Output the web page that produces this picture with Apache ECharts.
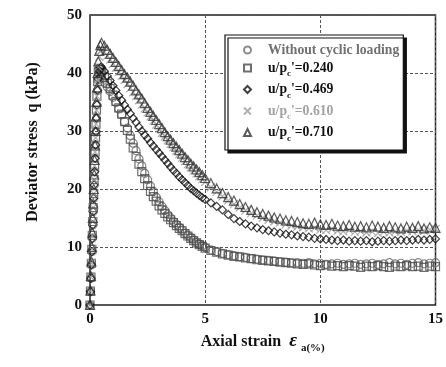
<!DOCTYPE html>
<html>
<head>
<meta charset="utf-8">
<script src="https://cdn.jsdelivr.net/npm/echarts@6/dist/echarts.min.js"></script>
<style>
  html, body { margin: 0; padding: 0; background: #fff; }
  #chart { width: 446px; height: 367px; }
</style>
</head>
<body>
<div id="chart"></div>
<script>
// axial strain (%) sampled along every curve
const strain = [
  0, 0.02, 0.04, 0.06, 0.08, 0.10, 0.12, 0.14, 0.16, 0.18, 0.20, 0.22, 0.24, 0.26, 0.28, 0.30, 0.33, 0.36, 0.40, 0.45, 0.5,
  0.625, 0.75, 0.875, 1, 1.125, 1.25, 1.375, 1.5, 1.625, 1.75, 1.875, 2,
  2.125, 2.25, 2.375, 2.5, 2.625, 2.75, 2.875, 3, 3.125, 3.25, 3.375, 3.5,
  3.625, 3.75, 3.875, 4, 4.125, 4.25, 4.375, 4.5, 4.625, 4.75, 4.875, 5,
  5.25, 5.5, 5.75, 6, 6.25, 6.5, 6.75, 7, 7.25, 7.5, 7.75, 8,
  8.25, 8.5, 8.75, 9, 9.25, 9.5, 9.75, 10, 10.25, 10.5,
  10.75, 11, 11.25, 11.5, 11.75, 12, 12.25, 12.5, 12.75, 13,
  13.25, 13.5, 13.75, 14, 14.25, 14.5, 14.75, 15
];

// deviator stress q (kPa)
const qNoCyclic = [
  0, 2.3, 4.6, 6.9, 9.2, 11.5, 13.8, 16.1, 18.4, 20.7, 23, 25.3, 27.6, 29.9, 32.2, 34.5, 37, 38.8, 39.6, 39.4, 39.0,
  38.4, 37.6, 36.8, 35.8, 34.9, 33.8, 32.8, 31.6, 30.5, 29.2, 27.9, 26.6,
  25.2, 24.0, 22.7, 21.6, 20.5, 19.6, 18.6, 17.8, 17.0, 16.3, 15.6, 15.0,
  14.4, 13.9, 13.4, 12.9, 12.4, 12.0, 11.6, 11.2, 10.8, 10.5, 10.2, 9.9,
  9.5, 9.2, 8.9, 8.7, 8.5, 8.3, 8.2, 8.0, 7.9, 7.8, 7.7, 7.6,
  7.5, 7.4, 7.3, 7.3, 7.2, 7.3, 7.1, 7.2, 7.0, 7.1,
  7.2, 7.0, 7.1, 7.2, 7.0, 7.1, 7.2, 7.0, 7.1, 7.3,
  7.1, 7.2, 7.0, 7.2, 7.3, 7.1, 7.2, 7.3
];
const q240 = [
  0, 2.4, 4.8, 7.2, 9.6, 12, 14.4, 16.8, 19.2, 21.6, 24, 26.4, 28.8, 31.2, 33.6, 36, 38.5, 40.2, 40.8, 40.6, 40.0,
  39.2, 38.2, 37.3, 36.2, 35.1, 34.0, 32.9, 31.6, 30.1, 28.6, 27.1, 25.6,
  24.3, 23.0, 21.8, 20.6, 19.6, 18.7, 17.9, 17.1, 16.4, 15.8, 15.2, 14.7,
  14.2, 13.7, 13.2, 12.8, 12.3, 11.9, 11.5, 11.1, 10.7, 10.4, 10.1, 9.8,
  9.4, 9.1, 8.8, 8.6, 8.4, 8.3, 8.1, 8.0, 7.8, 7.7, 7.6, 7.5,
  7.4, 7.3, 7.2, 7.1, 7.0, 7.1, 6.9, 6.8, 6.9, 6.7,
  6.8, 6.6, 6.8, 6.7, 6.5, 6.7, 6.6, 6.8, 6.6, 6.5,
  6.7, 6.6, 6.8, 6.6, 6.7, 6.5, 6.7, 6.6
];
const q469 = [
  0, 2.3, 4.6, 6.9, 9.2, 11.5, 13.8, 16.1, 18.4, 20.7, 23, 25.3, 27.6, 29.9, 32.2, 34.5, 37, 39, 40.4, 40.9, 41.0,
  40.3, 39.5, 38.7, 37.8, 37.0, 36.1, 35.3, 34.5, 33.7, 33.0, 32.2, 31.5,
  30.7, 30.0, 29.3, 28.7, 28.0, 27.4, 26.8, 26.2, 25.6, 25.0, 24.4, 23.8,
  23.2, 22.7, 22.1, 21.6, 21.1, 20.6, 20.1, 19.7, 19.3, 18.9, 18.5, 18.2,
  17.6, 17.0, 16.4, 15.6, 14.9, 14.4, 14.0, 13.6, 13.3, 13.0, 12.8, 12.6,
  12.4, 12.2, 12.1, 11.9, 11.8, 11.7, 11.5, 11.4, 11.3, 11.2,
  11.1, 11.2, 11.0, 11.1, 11.0, 11.1, 10.9, 11.0, 11.1, 11.0,
  11.1, 11.2, 11.1, 11.2, 11.3, 11.2, 11.3, 11.4
];
const q610 = [
  0, 2.4, 4.8, 7.2, 9.6, 12, 14.4, 16.8, 19.2, 21.6, 24, 26.4, 28.8, 31.2, 33.6, 36, 38.8, 41, 42.8, 43.7, 44.0,
  43.6, 43.0, 42.3, 41.6, 40.9, 40.2, 39.5, 38.8, 38.1, 37.4, 36.7, 36.0,
  35.3, 34.6, 33.9, 33.2, 32.5, 31.8, 31.1, 30.4, 29.7, 29.1, 28.4, 27.8,
  27.2, 26.6, 26.0, 25.4, 24.8, 24.3, 23.7, 23.2, 22.7, 22.2, 21.7, 21.2,
  20.3, 19.5, 18.7, 18.0, 17.4, 16.8, 16.3, 15.8, 15.4, 15.0, 14.7, 14.4,
  14.2, 13.9, 13.7, 13.5, 13.4, 13.2, 13.3, 13.0, 12.9, 13.1,
  12.8, 12.7, 12.9, 12.6, 12.7, 12.5, 12.6, 12.4, 12.6, 12.5,
  12.7, 12.6, 12.8, 12.7, 12.9, 12.8, 13.0, 13.1
];
const q710 = [
  0, 2.5, 5, 7.5, 10, 12.5, 15, 17.5, 20, 22.5, 25, 27.5, 30, 32.5, 35, 37.5, 40, 42, 43.8, 44.8, 45.2,
  44.7, 44.0, 43.3, 42.6, 41.9, 41.2, 40.5, 39.8, 39.2, 38.5, 37.8, 37.0,
  36.3, 35.6, 34.8, 34.0, 33.3, 32.6, 31.9, 31.2, 30.5, 29.8, 29.1, 28.5,
  27.9, 27.3, 26.7, 26.1, 25.5, 25.0, 24.4, 23.9, 23.4, 22.9, 22.4, 21.9,
  21.0, 20.1, 19.3, 18.6, 18.0, 17.4, 16.9, 16.4, 16.0, 15.7, 15.4, 15.1,
  14.9, 14.6, 14.5, 14.3, 14.1, 14.0, 14.2, 13.9, 13.8, 14.0,
  13.7, 13.6, 13.8, 13.5, 13.6, 13.4, 13.7, 13.5, 13.3, 13.6,
  13.4, 13.2, 13.5, 13.3, 13.6, 13.2, 13.4, 13.3
];

const seriesNames = ["Without cyclic loading", "u/pc'=0.240", "u/pc'=0.469", "u/pc'=0.610", "u/pc'=0.710"];
const seriesValues = [qNoCyclic, q240, q469, q610, q710];
const seriesColors = ["#6e6e6e", "#4a4a4a", "#111111", "#9c9c9c", "#333333"];
const seriesSymbols = ["circle", "rect", "diamond", "path://M0,0L10,10M10,0L0,10", "triangle"];
const legendTextColors = ["#707070", "#111111", "#111111", "#a2a2a2", "#111111"];

const FONT = "Liberation Serif";

const chart = echarts.init(document.getElementById("chart"));

const option = {
  animation: false,
  backgroundColor: "#fff",
  grid: {
    left: 90,
    right: 10,
    top: 15,
    bottom: 62,
    show: true,
    borderColor: "#222",
    borderWidth: 1.5,
    backgroundColor: "transparent",
  },
  xAxis: {
    type: "value",
    min: 0,
    max: 15,
    interval: 5,
    name: "Axial strain  {e|ε} {s|a(%)}",
    nameLocation: "middle",
    nameGap: 15,
    nameTextStyle: {
      fontFamily: FONT,
      fontWeight: "bold",
      fontSize: 16,
      color: "#111",
      rich: {
        e: { fontFamily: FONT, fontSize: 19, fontWeight: "bold", fontStyle: "italic", color: "#111" },
        s: { fontFamily: FONT, fontSize: 11, fontWeight: "bold", color: "#111", padding: [14, 0, 0, 0] },
      },
    },
    axisLine: { show: false },
    axisTick: { show: false },
    axisLabel: { fontFamily: FONT, fontWeight: "bold", fontSize: 15, color: "#111", margin: 7 },
    splitLine: { show: true, lineStyle: { color: "#555", type: [3, 2], width: 1 } },
  },
  yAxis: {
    type: "value",
    min: 0,
    max: 50,
    interval: 10,
    name: "Deviator stress  q (kPa)",
    nameLocation: "middle",
    nameGap: 49,
    nameTextStyle: {
      fontFamily: FONT,
      fontWeight: "bold",
      fontSize: 16,
      color: "#111",
      padding: [0, 0, 0, 36],
    },
    axisLine: { show: false },
    axisTick: { show: false },
    axisLabel: { fontFamily: FONT, fontWeight: "bold", fontSize: 15, color: "#111", margin: 8 },
    splitLine: { show: true, lineStyle: { color: "#555", type: [3, 2], width: 1 } },
  },
  legend: {
    left: 225,
    top: 35,
    orient: "vertical",
    padding: [8, 4, 7, 18],
    itemGap: 4,
    itemWidth: 7,
    itemHeight: 7,
    backgroundColor: "#fff",
    borderColor: "#111",
    borderWidth: 1.2,
    shadowColor: "#111",
    shadowBlur: 0,
    shadowOffsetX: 3,
    shadowOffsetY: 3,
    data: seriesNames.map((n, i) => ({ name: n, textStyle: { color: legendTextColors[i] } })),
    formatter: (name) => {
      if (name.startsWith("u/pc")) {
        return "{g|}u/p{c|c}" + name.slice(4);
      }
      return "{g|}" + name;
    },
    textStyle: {
      fontFamily: FONT,
      fontWeight: "bold",
      fontSize: 13.7,
      rich: {
        g: { width: 12 },
        c: { fontFamily: FONT, fontWeight: "bold", fontSize: 9, padding: [12, 0, 0, 0] },
      },
    },
  },
  series: seriesNames.map((name, i) => ({
    type: "scatter",
    name: name,
    data: strain.map((e, k) => [e, seriesValues[i][k]]),
    symbol: seriesSymbols[i],
    symbolSize: i === 4 ? 9 : 8,
    itemStyle: {
      color: "rgba(0,0,0,0)",
      borderColor: seriesColors[i],
      borderWidth: 1.2,
    },
  })),
};

chart.setOption(option);
</script>
</body>
</html>
